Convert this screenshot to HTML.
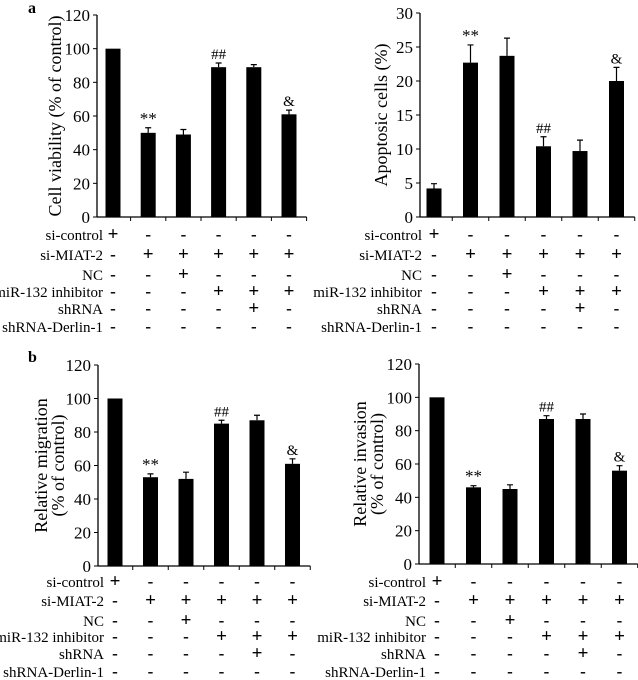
<!DOCTYPE html>
<html><head><meta charset="utf-8"><style>
html,body{margin:0;padding:0;background:#fff;}
svg{display:block;font-family:"Liberation Serif",serif;}
text{font-family:"Liberation Serif",serif;}
</style></head><body>
<svg id="fig" width="638" height="680" viewBox="0 0 638 680" xmlns="http://www.w3.org/2000/svg">
<text x="28" y="13" font-size="16" font-weight="bold">a</text>
<text x="28" y="362" font-size="16" font-weight="bold">b</text>
</svg>
<script>
const rowLabels = ["si-control","si-MIAT-2","NC","miR-132 inhibitor","shRNA","shRNA-Derlin-1"];
const signs = [
  ["+","-","-","-","-","-"],
  ["-","+","+","+","+","+"],
  ["-","-","+","-","-","-"],
  ["-","-","-","+","+","+"],
  ["-","-","-","-","+","-"],
  ["-","-","-","-","-","-"]
];
const annotations = ["","**","","##","","&"];
const viabilityValues = [100,50,49,89,89,61];
const viabilityErrors = [0,3,3,2.5,1.5,2.5];
const viabilityTicks = [0,20,40,60,80,100,120];
const apoptosisValues = [4.2,22.7,23.7,10.4,9.7,20];
const apoptosisErrors = [0.7,2.6,2.6,1.4,1.6,2];
const apoptosisTicks = [0,5,10,15,20,25,30];
const migrationValues = [100,53,52,85,87,61];
const migrationErrors = [0,2,4,2,3,3];
const migrationTicks = [0,20,40,60,80,100,120];
const invasionValues = [100,46,45,87,87,56];
const invasionErrors = [0,1,2.5,2,3,3];
const invasionTicks = [0,20,40,60,80,100,120];

const NS = "http://www.w3.org/2000/svg";
const svg = document.getElementById("fig");
function mk(tag, attrs, parent){
  const e = document.createElementNS(NS, tag);
  for (const k in attrs) e.setAttribute(k, attrs[k]);
  (parent||svg).appendChild(e);
  return e;
}
function panel(cfg){
  const g = mk("g", {});
  
  
  const ticks = cfg.ticks, max = ticks[ticks.length-1];
  const y = v => cfg.y0 - (v/max)*(cfg.y0-cfg.yTop);
  const cx = i => cfg.ax + cfg.first + i*cfg.step;
  const right = cfg.ax + cfg.first + 5.5*cfg.step;
  const yaxis = mk("line",{x1:cfg.ax,y1:cfg.yTop,x2:cfg.ax,y2:cfg.y0,stroke:"#000","stroke-width":1.3},g);
  
  
  const xaxis = mk("line",{x1:cfg.ax,y1:cfg.y0,x2:right,y2:cfg.y0,stroke:"#000","stroke-width":1.3},g);
  
  
  for (let i=1;i<=6;i++){
    const tx = cfg.ax + cfg.first + (i-0.5)*cfg.step;
    const t = mk("line",{x1:tx,y1:cfg.y0,x2:tx,y2:cfg.y0+4,stroke:"#000","stroke-width":1},g);
    
    
  }
  ticks.forEach(v=>{
    const t = mk("line",{x1:cfg.ax-4,y1:y(v),x2:cfg.ax,y2:y(v),stroke:"#000","stroke-width":1},g);
    
    
    const lb = mk("text",{x:cfg.ax-7,y:y(v)+6,"font-size":17,"text-anchor":"end"},g);
    lb.textContent = v;
    
    
  });
  const tl = mk("text",{transform:`translate(${cfg.titleX},${(cfg.y0+cfg.yTop)/2}) rotate(-90)`,"font-size":cfg.titleSize,"text-anchor":"middle"},g);
  
  
  cfg.title.forEach((line,k)=>{
    const ts = mk("tspan",{x:0,dy:k===0?0:cfg.titleSize*0.95},tl);
    ts.textContent = line;
  });
  cfg.values.forEach((v,i)=>{
    const bw = 15;
    const b = mk("rect",{x:cx(i)-bw/2,y:y(v),width:bw,height:cfg.y0-y(v),fill:"#000"},g);
    
    
    const e = cfg.errors[i];
    if (e>0){
      const el = mk("path",{d:`M${cx(i)} ${y(v)} V${y(v+e)} M${cx(i)-3} ${y(v+e)} H${cx(i)+3}`,stroke:"#000","stroke-width":1.2,fill:"none"},g);
      
      
    }
    if (annotations[i]){
      const a = mk("text",{x:cx(i),y:y(v+e)-4,"font-size":annotations[i]==="**"?17:15,"text-anchor":"middle"},g);
      a.textContent = annotations[i];
      
      
    }
  });
  rowLabels.forEach((lab,r)=>{
    const yy = cfg.rowY[r];
    const t = mk("text",{x:cfg.labelX,y:yy,"font-size":15,"text-anchor":"end"},g);
    t.textContent = lab;
    
    
    signs[r].forEach((s,i)=>{
      const st = mk("text",{x:cx(i),y:yy,"font-size":s==="+"?19:17,"font-weight":"bold","text-anchor":"middle"},g);
      st.textContent = s==="+"?"+":"-";
      
      
    });
  });
}
panel({name:"cell-viability-chart",ax:97,first:16,step:35.2,yTop:15,y0:217,ticks:viabilityTicks,values:viabilityValues,errors:viabilityErrors,
  title:["Cell viability (% of control)"],titleX:61,titleSize:18,labelX:103,rowY:[240,260,280,297,314,332]});
panel({name:"apoptosis-chart",ax:420,first:14,step:36.5,yTop:13,y0:217,ticks:apoptosisTicks,values:apoptosisValues,errors:apoptosisErrors,
  title:["Apoptosic cells (%)"],titleX:387,titleSize:18,labelX:422,rowY:[240,260,280,297,314,332]});
panel({name:"migration-chart",ax:98,first:17,step:35.5,yTop:365,y0:566,ticks:migrationTicks,values:migrationValues,errors:migrationErrors,
  title:["Relative migration","(% of control)"],titleX:47,titleSize:18,labelX:104,rowY:[587,606,626,642,659,677]});
panel({name:"invasion-chart",ax:419,first:18,step:36.5,yTop:364,y0:564,ticks:invasionTicks,values:invasionValues,errors:invasionErrors,
  title:["Relative invasion","(% of control)"],titleX:366,titleSize:18,labelX:426,rowY:[587,606,626,642,659,677]});
</script>
</body></html>
